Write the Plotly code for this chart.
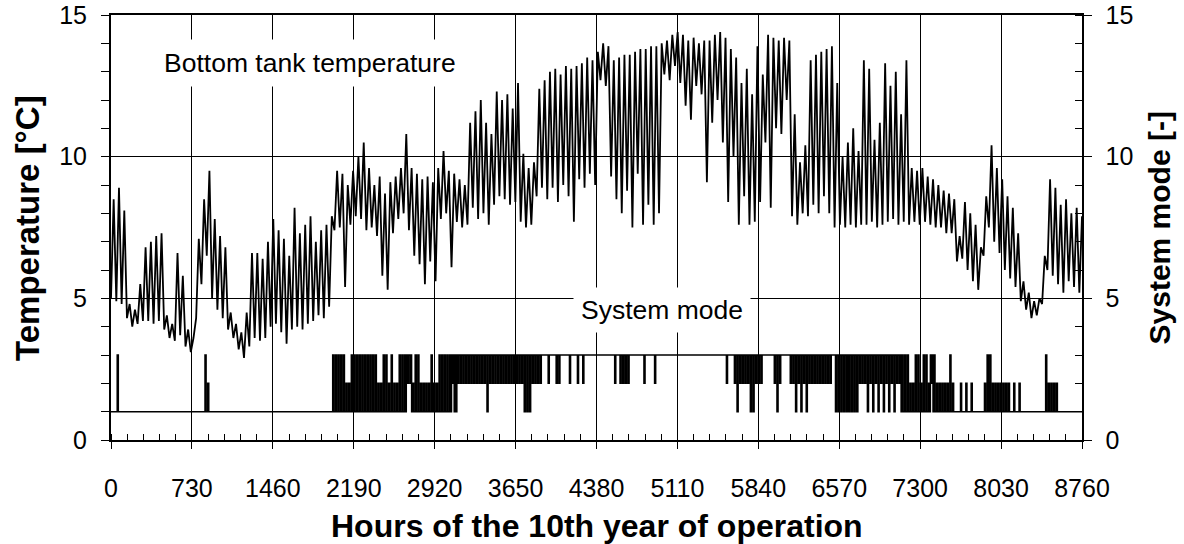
import plotly.graph_objects as go

# ---------------- data ----------------
# Bottom tank temperature [°C], one (low, high) pair per 2-day period (48 h)
PERIOD_H = 48
temp_low = [
    5.0, 4.9, 4.8, 4.3, 4.0, 4.1, 4.2, 4.2, 4.1, 4.2,
    3.9, 3.6, 3.5, 3.7, 3.3, 3.1, 4.3, 5.5, 6.5, 5.0,
    4.6, 4.3, 3.9, 3.6, 3.2, 2.9, 3.3, 3.6, 3.5, 3.6,
    4.0, 4.1, 3.8, 3.4, 3.9, 4.0, 3.9, 4.1, 4.2, 4.4,
    4.3, 4.7, 7.4, 7.5, 5.4, 7.6, 7.9, 7.8, 7.4, 7.5,
    7.2, 5.8, 5.3, 7.3, 7.8, 8.0, 7.4, 6.5, 6.2, 5.5,
    6.3, 5.6, 7.8, 8.0, 6.1, 7.7, 7.5, 7.6, 8.2, 7.8,
    8.0, 7.6, 8.3, 8.6, 8.5, 8.3, 8.4, 7.7, 7.5, 7.6,
    8.6, 8.9, 8.5, 8.9, 8.4, 9.0, 8.6, 7.7, 9.2, 8.9,
    9.4, 9.0, 12.7, 12.5, 9.3, 8.5, 8.0, 8.8, 7.5, 9.4,
    7.6, 8.3, 7.6, 8.0, 12.9, 12.7, 13.2, 12.6, 11.8, 11.3,
    12.5, 12.2, 9.1, 11.2, 12.0, 10.5, 8.4, 10.0, 7.6, 8.6,
    7.6, 7.7, 8.4, 10.5, 8.2, 11.0, 10.8, 12.0, 7.9, 7.6,
    8.0, 7.9, 8.3, 8.0, 8.6, 8.0, 7.5, 7.6, 7.5, 7.6,
    7.5, 7.6, 7.6, 7.7, 7.5, 7.6, 7.7, 7.8, 7.6, 7.7,
    7.6, 7.7, 7.6, 7.7, 7.6, 7.5, 7.5, 7.3, 7.3, 6.3,
    6.4, 6.0, 5.6, 5.3, 6.5, 7.5, 7.0, 6.6, 6.0, 5.7,
    5.4, 4.9, 4.6, 4.3, 4.4, 4.8, 6.0, 5.8, 5.5, 5.2,
    5.6, 5.4, 5.2,
]
temp_high = [
    8.5, 8.9, 8.1, 4.8, 4.6, 5.5, 6.8, 7.0, 7.2, 7.3,
    4.4, 4.1, 6.6, 5.8, 3.9, 3.6, 7.1, 8.5, 9.5, 7.8,
    7.2, 6.8, 4.5, 4.1, 3.8, 4.5, 6.6, 6.6, 6.4, 7.0,
    7.8, 7.4, 7.1, 6.5, 8.2, 7.3, 7.6, 7.9, 7.0, 7.4,
    7.6, 7.9, 9.5, 9.4, 9.0, 9.5, 10.0, 10.5, 9.6, 9.0,
    9.3, 8.7, 9.1, 9.3, 9.6, 10.8, 9.6, 9.4, 9.2, 9.3,
    9.1, 9.6, 10.2, 9.5, 9.4, 9.2, 9.0, 11.2, 11.6, 12.0,
    11.2, 10.8, 12.3, 12.0, 12.2, 11.7, 12.6, 10.1, 9.6, 9.8,
    12.4, 12.7, 13.0, 13.1, 12.9, 13.2, 13.1, 13.2, 13.3, 13.5,
    13.4, 13.7, 14.0, 13.9, 13.4, 13.5, 13.6, 13.6, 13.7, 13.8,
    13.8, 13.9, 13.9, 14.0, 14.1, 14.3, 14.4, 14.3, 14.1, 14.2,
    14.0, 14.1, 14.1, 14.3, 14.4, 14.2, 13.8, 13.5, 12.6, 13.1,
    12.2, 13.9, 12.9, 14.3, 14.2, 14.1, 14.2, 14.1, 11.5, 9.8,
    10.4, 13.4, 13.6, 13.7, 13.8, 13.9, 12.6, 10.0, 10.5, 11.0,
    10.2, 13.4, 13.1, 10.6, 11.2, 13.3, 12.5, 13.0, 11.5, 13.4,
    9.6, 9.5, 9.6, 9.3, 9.2, 9.0, 8.8, 8.7, 8.5, 7.2,
    8.4, 8.0, 7.6, 6.8, 8.6, 10.4, 9.6, 9.2, 8.6, 8.2,
    7.3, 5.6, 5.2, 4.9, 5.0, 6.5, 9.2, 8.9, 8.3, 8.5,
    8.0, 8.2, 7.9,
]

# System mode [-]: one code per day, given as (code, number of days) runs.
# code -> (night mode, daytime mode)
MODE_CODES = {"1": (1, 1), "3": (3, 3), "a": (1, 3), "b": (1, 2),
              "c": (3, 2), "e": (3, 1)}
DAY_START_H, DAY_END_H = 8, 18
mode_runs = [
    ("1", 2), ("a", 1), ("1", 32), ("a", 1), ("b", 1), ("1", 46),
    ("a", 5), ("b", 2), ("a", 9),
    ("a", 1), ("b", 2), ("a", 2), ("b", 1), ("a", 1), ("b", 2), ("a", 3),
    ("c", 2), ("b", 1), ("a", 2), ("b", 4), ("a", 1), ("b", 2), ("a", 4),
    ("a", 1), ("c", 1), ("a", 1), ("c", 1),
    ("c", 10), ("e", 1), ("c", 13), ("e", 3), ("c", 4),
    ("3", 2), ("c", 1), ("3", 2), ("c", 2), ("3", 3), ("c", 1), ("3", 2),
    ("c", 1), ("3", 1), ("c", 1),
    ("3", 11), ("c", 1), ("3", 1), ("c", 4), ("3", 5), ("c", 1), ("3", 3), ("c", 1),
    ("3", 26), ("c", 1), ("3", 2), ("c", 1), ("e", 1), ("c", 4), ("e", 2), ("c", 3),
    ("3", 4), ("c", 1), ("e", 1), ("c", 1), ("3", 3), ("c", 2), ("e", 1), ("c", 1),
    ("e", 1), ("c", 1), ("e", 1), ("c", 9),
    ("3", 1), ("e", 9), ("c", 3),
    ("e", 1), ("c", 1), ("e", 1), ("c", 1), ("e", 1), ("c", 1), ("e", 1), ("c", 1),
    ("e", 1), ("c", 1), ("e", 1), ("c", 2), ("a", 3),
    ("b", 2), ("a", 2), ("b", 1), ("a", 2), ("b", 1), ("c", 1), ("a", 1), ("b", 5),
    ("a", 1), ("b", 1),
    ("1", 2), ("b", 1), ("1", 1), ("b", 1), ("1", 1), ("b", 1), ("1", 4), ("b", 1),
    ("a", 2), ("b", 7), ("1", 1), ("b", 1), ("1", 1), ("b", 1), ("1", 9), ("a", 1),
    ("b", 4), ("1", 9),
]

x_ticks = [0, 730, 1460, 2190, 2920, 3650, 4380, 5110, 5840, 6570, 7300, 8030, 8760]
y_ticks = [0, 5, 10, 15]

# ---------------- build traces ----------------
temp_x, temp_y = [], []
for k, (lo, hi) in enumerate(zip(temp_low, temp_high)):
    temp_x += [PERIOD_H * k, PERIOD_H * k + PERIOD_H // 2]
    temp_y += [lo, hi]

day_codes = "".join(c * n for c, n in mode_runs)
assert len(day_codes) == 365, len(day_codes)
mode_x, mode_y = [], []
for d, c in enumerate(day_codes):
    night, day = MODE_CODES[c]
    mode_x += [24 * d, 24 * d + DAY_START_H, 24 * d + DAY_END_H]
    mode_y += [night, day, night]
mode_x.append(8760)
mode_y.append(mode_y[-1])

FONT = "Liberation Sans, Arial, sans-serif"

fig = go.Figure()
fig.add_trace(go.Scatter(x=temp_x, y=temp_y, mode="lines",
                         line=dict(color="black", width=1.8),
                         showlegend=False, hoverinfo="skip"))
fig.add_trace(go.Scatter(x=mode_x, y=mode_y, mode="lines", yaxis="y2",
                         line=dict(color="black", width=1.5, shape="hv"),
                         showlegend=False, hoverinfo="skip"))

fig.update_layout(
    template="none",
    width=1184, height=544, autosize=False,
    margin=dict(l=111, r=102, t=15, b=104, pad=0, autoexpand=False),
    paper_bgcolor="white", plot_bgcolor="white",
    font=dict(family=FONT, size=25, color="black"),
    xaxis=dict(range=[0, 8760], tickmode="array", tickvals=x_ticks,
               ticktext=[str(v) for v in x_ticks], automargin=False,
               showgrid=True, gridcolor="black", gridwidth=1,
               showline=True, linecolor="black", linewidth=2, mirror=True,
               ticks="outside", ticklen=7, tickcolor="black", tickwidth=1,
               minor=dict(ticks="inside", ticklen=6, tick0=0, dtick=146,
                          tickcolor="black", tickwidth=1, showgrid=False),
               zeroline=False, ticklabelstandoff=18,
               tickfont=dict(size=25)),
    yaxis=dict(range=[0, 15], tickmode="array", tickvals=y_ticks, automargin=False,
               showgrid=True, gridcolor="black", gridwidth=1,
               showline=True, linecolor="black", linewidth=2,
               ticks="outside", ticklen=8, tickcolor="black", tickwidth=1,
               minor=dict(ticks="outside", ticklen=8, tick0=0, dtick=1,
                          tickcolor="black", tickwidth=1, showgrid=False),
               zeroline=False, ticklabelstandoff=9, tickfont=dict(size=25)),
    yaxis2=dict(range=[0, 15], overlaying="y", side="right", tickmode="array",
                tickvals=y_ticks, showgrid=False, automargin=False,
                showline=True, linecolor="black", linewidth=1.5,
                ticks="outside", ticklen=8, tickcolor="black", tickwidth=1,
                minor=dict(ticks="inside", ticklen=7, tick0=0, dtick=1,
                           tickcolor="black", tickwidth=1),
                zeroline=False, ticklabelstandoff=9, tickfont=dict(size=25)),
    annotations=[
        dict(text="Bottom tank temperature", x=1795, y=13.3, xref="x", yref="y",
             showarrow=False, font=dict(size=26.5), bgcolor="white", borderpad=8),
        dict(text="System mode", x=4975, y=4.59, xref="x", yref="y",
             showarrow=False, font=dict(size=26.5), bgcolor="white", borderpad=7),
        dict(text="<b>Hours of the 10th year of operation</b>", x=0.5005, y=-0.2024,
             xref="paper", yref="paper", showarrow=False, font=dict(size=32),
             xanchor="center", yanchor="middle"),
        dict(text="<b>Temperature [°C]</b>", x=-0.086, y=0.5, xref="paper",
             yref="paper", showarrow=False, font=dict(size=33), textangle=-90,
             xanchor="center", yanchor="middle"),
        dict(text="<b>System mode [-]</b>", x=1.0803, y=0.5, xref="paper",
             yref="paper", showarrow=False, font=dict(size=30), textangle=-90,
             xanchor="center", yanchor="middle"),
    ],
)

fig.write_html("out.html",
               config={"displayModeBar": False, "staticPlot": True},
               post_script="document.body.style.margin='0';"
                           "document.body.style.overflow='hidden';")
